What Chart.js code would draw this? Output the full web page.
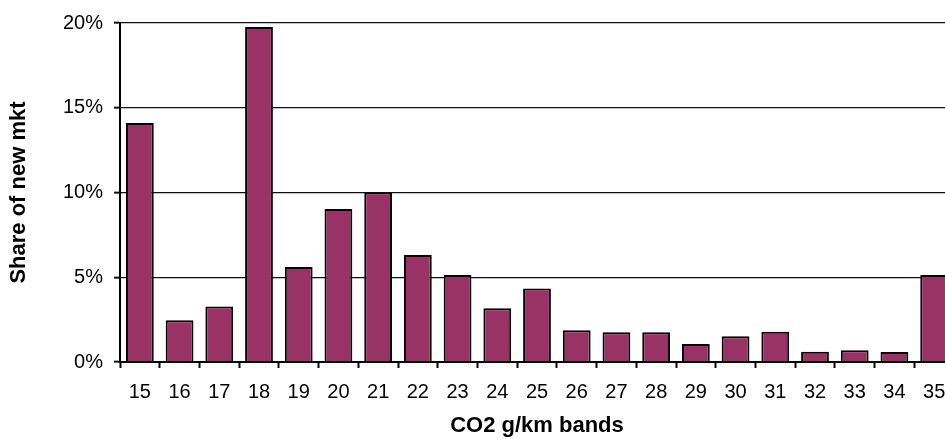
<!DOCTYPE html>
<html>
<head>
<meta charset="utf-8">
<script src="https://cdn.jsdelivr.net/npm/chart.js@4/dist/chart.umd.min.js"></script>
<style>
  html, body { margin: 0; padding: 0; background: #fff; overflow: hidden; }
  #wrap { position: relative; width: 960px; height: 439px; }
</style>
</head>
<body>
<div id="wrap"><canvas id="chart-co2-bands"></canvas></div>
<script>
const bands = ['15', '16', '17', '18', '19', '20', '21', '22', '23', '24', '25',
    '26', '27', '28', '29', '30', '31', '32', '33', '34', '35'];
const share = [14.1, 2.46, 3.28, 19.77, 5.6, 9.03, 10.0, 6.32, 5.14, 3.17, 4.34,
    1.88, 1.76, 1.76, 1.06, 1.52, 1.78, 0.6, 0.7, 0.59, 5.14];
const yTicks = [0, 5, 10, 15, 20];

const font = 'Arial, "Liberation Sans", sans-serif';

new Chart(document.getElementById('chart-co2-bands'), {
    type: 'bar',
    data: {
        labels: bands,
        datasets: [
            {
                label: 'Share of new mkt',
                data: share,
                backgroundColor: '#993366',
                borderColor: '#000',
                borderWidth: 2,
                barPercentage: 0.7,
                categoryPercentage: 1,
            },
        ],
    },
    options: {
        responsive: true,
        maintainAspectRatio: false,
        animation: false,
        layout: { padding: { top: 22, right: 6, left: 0, bottom: 0 } },
        plugins: {
            legend: { display: false },
            tooltip: { enabled: false },
        },
        scales: {
            x: {
                grid: {
                    drawOnChartArea: false,
                    color: '#000',
                    tickLength: 6,
                    tickWidth: 2,
                },
                border: { color: '#000', width: 2 },
                ticks: { color: '#000', padding: 12, font: { family: font, size: 20 }, maxRotation: 0 },
                title: {
                    display: true,
                    text: 'CO2 g/km bands',
                    color: '#000',
                    font: { family: font, size: 22, weight: 'bold' },
                    padding: { top: 0, bottom: 0 },
                },
                afterFit: (scale) => { scale.height = 77; },
            },
            y: {
                min: 0,
                max: 20,
                afterBuildTicks: (scale) => { scale.ticks = yTicks.map((v) => ({ value: v })); },
                grid: { color: '#111', lineWidth: 1.3, tickLength: 6, tickWidth: 2 },
                border: { color: '#000', width: 2 },
                ticks: {
                    color: '#000',
                    padding: 11,
                    font: { family: font, size: 20 },
                    callback: (v) => v + '%',
                },
                title: {
                    display: true,
                    text: 'Share of new mkt',
                    color: '#000',
                    font: { family: font, size: 22, weight: 'bold' },
                    padding: { top: 6, bottom: 0 },
                },
                afterFit: (scale) => { scale.width = 120; },
            },
        },
    },
});
</script>
</body>
</html>
